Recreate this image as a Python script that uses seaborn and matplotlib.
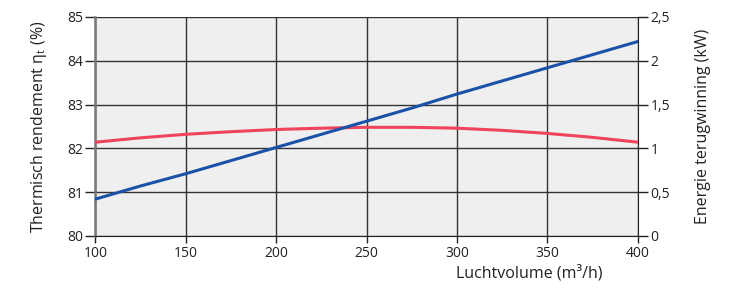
import numpy as np
import pandas as pd
import matplotlib.pyplot as plt
import seaborn as sns

# waarden
luchtvolume = [100, 125, 150, 175, 200, 225, 250, 275, 300, 325, 350, 375, 400]
rendement = [82.14, 82.24, 82.32, 82.38, 82.43, 82.46, 82.48, 82.48, 82.46, 82.41, 82.34, 82.25, 82.14]
energie = [0.42, 0.57, 0.71, 0.86, 1.01, 1.16, 1.31, 1.46, 1.62, 1.77, 1.92, 2.07, 2.22]

x_ticks = [100, 150, 200, 250, 300, 350, 400]
y_left_ticks = [80, 81, 82, 83, 84, 85]
y_right_ticks = [0, 0.5, 1, 1.5, 2, 2.5]
y_right_labels = ["0", "0,5", "1", "1,5", "2", "2,5"]

df = pd.DataFrame({"luchtvolume": luchtvolume, "rendement": rendement, "energie": energie})

sns.set_style("ticks")
plt.rcParams['font.family'] = ['Open Sans', 'DejaVu Sans']

fig, ax = plt.subplots(figsize=(7.34, 2.93), dpi=100)
fig.subplots_adjust(left=0.13, right=0.869, top=0.942, bottom=0.195)
ax.set_facecolor('#efefef')

ax2 = ax.twinx()
sns.lineplot(data=df, x="luchtvolume", y="rendement", ax=ax, color='#f0435c', linewidth=2.2, zorder=3)
sns.lineplot(data=df, x="luchtvolume", y="energie", ax=ax2, color='#1a52a8', linewidth=2.2, zorder=3)

ax.set_xlim(100, 400)
ax.set_ylim(80, 85)
ax2.set_ylim(0, 2.5)
ax.set_xticks(x_ticks)
ax.set_yticks(y_left_ticks)
ax2.set_yticks(y_right_ticks)
ax2.set_yticklabels(y_right_labels)

ax.grid(True, color='#333333', linewidth=1.0)
ax.set_axisbelow(True)

for a in (ax, ax2):
    a.tick_params(axis='both', labelsize=10, length=7, width=1, color='#222222', labelcolor='#222222', pad=2)
    for s in a.spines.values():
        s.set_visible(False)
ax.tick_params(axis='x', length=5)
ax.spines['left'].set_visible(True)
ax.spines['left'].set_color('#777777')
ax.spines['left'].set_linewidth(1.8)
ax.spines['bottom'].set_visible(True)
ax.spines['bottom'].set_color('#222222')
ax2.spines['right'].set_visible(True)
ax2.spines['right'].set_color('#222222')

ax.set_xlabel("Luchtvolume (m³/h)", fontsize=11.5, color='#222222', va='center')
ax.xaxis.set_label_coords(0.8, -0.17)
ax.set_ylabel("Thermisch rendement η$_\\mathregular{t}$ (%)", fontsize=11.5, color='#222222', labelpad=13)
ax2.set_ylabel("Energie terugwinning (kW)", fontsize=11.5, color='#222222', labelpad=18)

plt.savefig("out.png", dpi=100)
